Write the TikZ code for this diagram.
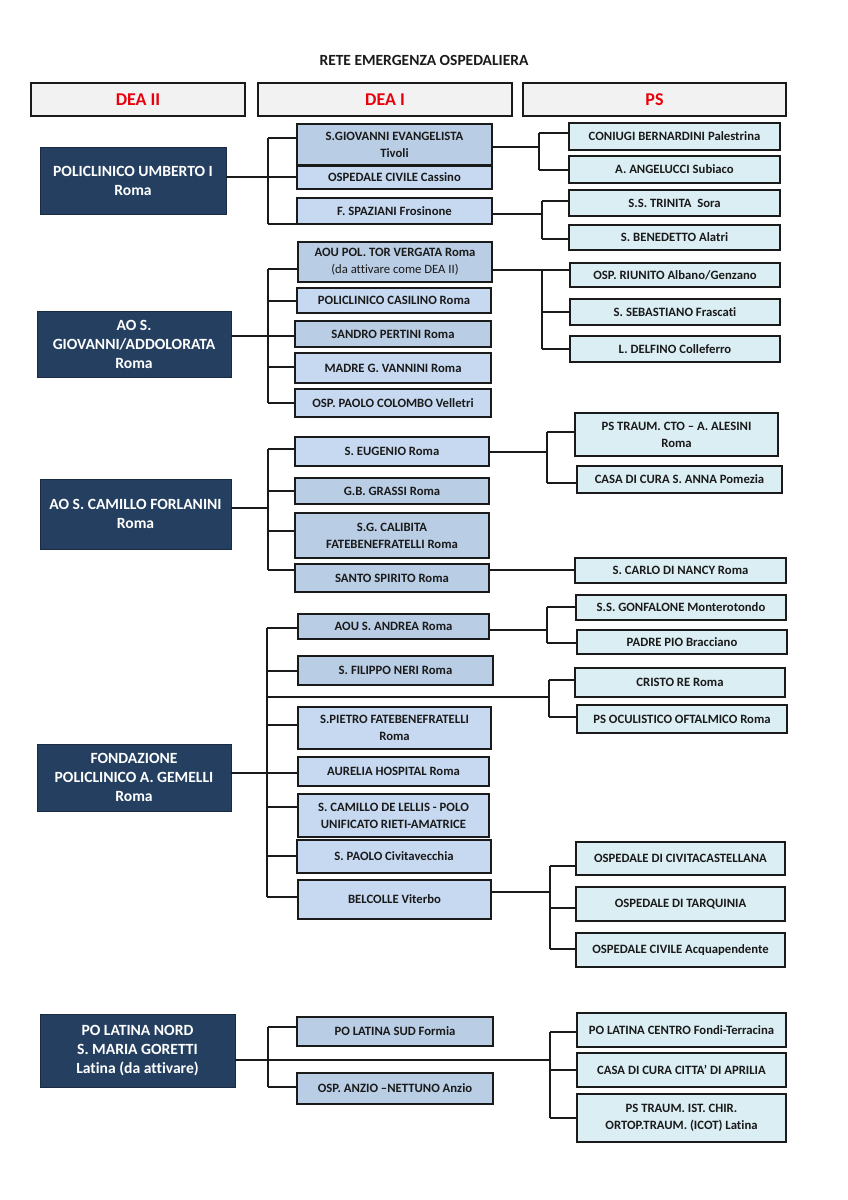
\documentclass[tikz,border=0pt]{standalone}
\usepackage{fontspec}
\setmainfont{Carlito}[Ligatures=NoCommon]
\definecolor{navy}{HTML}{243F60}
\definecolor{deaone}{HTML}{C6D9F1}
\definecolor{deaonedark}{HTML}{B9CDE5}
\definecolor{psblue}{HTML}{DBEEF4}
\definecolor{hdrred}{HTML}{E8000B}
\definecolor{hdrgray}{HTML}{F2F2F2}
\definecolor{edge}{HTML}{1A1A1A}
\newcommand\bx[7]{\node[#2, minimum width={(#5-#3)*1pt}, minimum height={(#6-#4)*1pt}] (#1) at ({(#3+#5)/2},{(#4+#6)/2}) {#7};}
\begin{document}
\begin{tikzpicture}[x=1pt,y=-1pt,
  every node/.style={font=\bfseries\fontsize{12.7}{17}\selectfont, inner sep=0pt, outer sep=0pt, align=center, text=edge},
  hdr/.style={draw=edge, line width=1.6pt, fill=hdrgray, text=hdrred, font=\bfseries\fontsize{18}{20}\selectfont},
  dk/.style={fill=navy, draw=navy!70!black, line width=0.8pt, text=white, font=\bfseries\fontsize{15.6}{19}\selectfont},
  deaA/.style={draw=edge, line width=1.6pt, fill=deaone},
  deaB/.style={deaA, fill=deaonedark},
  psbox/.style={draw=edge, line width=1.6pt, fill=psblue},
  ln/.style={line width=1.4pt, draw=edge}]
\fill[white] (0,0) rectangle (848,1200);
\useasboundingbox (0,0) rectangle (848,1200);

\node[font=\bfseries\fontsize{15.5}{17}\selectfont] (title) at (424,60) {RETE EMERGENZA OSPEDALIERA};

\bx{h1}{hdr}{31}{83}{245}{116}{DEA II}
\bx{h2}{hdr}{258}{83}{512}{116}{DEA I}
\bx{h3}{hdr}{523}{83}{786}{116}{PS}

% ---------- section 1
\bx{a}{dk}{40}{147}{226}{214}{POLICLINICO UMBERTO I\\Roma}
\bx{a1}{deaB}{297}{124}{492}{165}{S.GIOVANNI EVANGELISTA\\Tivoli}
\bx{a2}{deaA}{297}{166}{492}{189}{OSPEDALE CIVILE Cassino}
\bx{a3}{deaA}{297}{198}{492}{224}{F. SPAZIANI Frosinone}
\bx{p1}{psbox}{569}{123}{780}{150}{CONIUGI BERNARDINI Palestrina}
\bx{p2}{psbox}{569}{156}{780}{183}{A. ANGELUCCI Subiaco}
\bx{p3}{psbox}{569}{190}{780}{216}{S.S. TRINITA\ \ Sora}
\bx{p4}{psbox}{569}{225}{780}{250}{S. BENEDETTO Alatri}

\coordinate (ta1) at (268,138); \coordinate (ta2) at (268,224);
\draw[ln] (ta1) -- (ta2);
\draw[ln] (ta1) -- (a1.west |- ta1);
\draw[ln] (a.east |- 0,177) -- (a2.west |- 0,177);
\draw[ln] (ta2) -- (a3.west |- ta2);
\coordinate (sa1) at (539,133); \coordinate (sa2) at (539,170);
\draw[ln] (a1.east |- 0,147) -- (sa1 |- 0,147);
\draw[ln] (sa1) -- (sa2);
\draw[ln] (sa1) -- (p1.west |- sa1);
\draw[ln] (sa2) -- (p2.west |- sa2);
\coordinate (sb1) at (542,201); \coordinate (sb2) at (542,239);
\draw[ln] (a3.east |- 0,214) -- (sb1 |- 0,214);
\draw[ln] (sb1) -- (sb2);
\draw[ln] (sb1) -- (p3.west |- sb1);
\draw[ln] (sb2) -- (p4.west |- sb2);

% ---------- section 2
\bx{b}{dk}{37}{311}{231}{377}{AO S.\\GIOVANNI/ADDOLORATA\\Roma}
\bx{b1}{deaB}{298}{242}{492}{282}{AOU POL. TOR VERGATA Roma\\{\mdseries (da attivare come DEA II)}}
\bx{b2}{deaA}{297}{288}{491}{313}{POLICLINICO CASILINO Roma}
\bx{b3}{deaB}{295}{321}{491}{347}{SANDRO PERTINI Roma}
\bx{b4}{deaA}{295}{353}{491}{383}{MADRE G. VANNINI Roma}
\bx{b5}{deaA}{295}{389}{491}{417}{OSP. PAOLO COLOMBO Velletri}
\bx{q1}{psbox}{570}{263}{780}{287}{OSP. RIUNITO Albano/Genzano}
\bx{q2}{psbox}{570}{299}{780}{325}{S. SEBASTIANO Frascati}
\bx{q3}{psbox}{570}{336}{780}{362}{L. DELFINO Colleferro}

\coordinate (tb1) at (268,269); \coordinate (tb2) at (268,403);
\draw[ln] (tb1) -- (tb2);
\draw[ln] (tb1) -- (b1.west |- tb1);
\draw[ln] (tb1 |- 0,301) -- (b2.west |- 0,301);
\draw[ln] (b.east |- 0,336) -- (b3.west |- 0,336);
\draw[ln] (tb1 |- 0,367) -- (b4.west |- 0,367);
\draw[ln] (tb2) -- (b5.west |- tb2);
\coordinate (sc1) at (542,270); \coordinate (sc2) at (542,349);
\draw[ln] (b1.east |- sc1) -- (q1.west |- sc1);
\draw[ln] (sc1) -- (sc2);
\draw[ln] (sc1 |- 0,312) -- (q2.west |- 0,312);
\draw[ln] (sc2) -- (q3.west |- sc2);

% ---------- section 3
\bx{c}{dk}{40}{479}{231}{549}{AO S. CAMILLO FORLANINI\\Roma}
\bx{c1}{deaA}{295}{437}{489}{466}{S. EUGENIO Roma}
\bx{c2}{deaB}{295}{478}{489}{504}{G.B. GRASSI Roma}
\bx{c3}{deaB}{295}{513}{489}{558}{S.G. CALIBITA\\FATEBENEFRATELLI Roma}
\bx{c4}{deaB}{295}{564}{489}{592}{SANTO SPIRITO Roma}
\bx{r1}{psbox}{575}{413}{778}{456}{PS TRAUM. CTO – A. ALESINI\\Roma}
\bx{r2}{psbox}{577}{466}{782}{493}{CASA DI CURA S. ANNA Pomezia}
\bx{r3}{psbox}{575}{558}{786}{583}{S. CARLO DI NANCY Roma}

\coordinate (tc1) at (268,449); \coordinate (tc2) at (268,570);
\draw[ln] (tc1) -- (tc2);
\draw[ln] (tc1) -- (c1.west |- tc1);
\draw[ln] (tc1 |- 0,491) -- (c2.west |- 0,491);
\draw[ln] (c.east |- 0,508) -- (tc1 |- 0,508);
\draw[ln] (tc1 |- 0,531) -- (c3.west |- 0,531);
\draw[ln] (tc2) -- (c4.west |- tc2);
\coordinate (sd1) at (547,432); \coordinate (sd2) at (547,483);
\draw[ln] (c1.east |- 0,452) -- (sd1 |- 0,452);
\draw[ln] (sd1) -- (sd2);
\draw[ln] (sd1) -- (r1.west |- sd1);
\draw[ln] (sd2) -- (r2.west |- sd2);
\draw[ln] (c4.east |- 0,570) -- (r3.west |- 0,570);

% ---------- section 4
\bx{d}{dk}{37}{744}{231}{811}{FONDAZIONE\\POLICLINICO A. GEMELLI\\Roma}
\bx{d1}{deaB}{298}{614}{489}{639}{AOU S. ANDREA Roma}
\bx{d2}{deaB}{298}{656}{493}{685}{S. FILIPPO NERI Roma}
\bx{d3}{deaA}{298}{707}{491}{749}{S.PIETRO FATEBENEFRATELLI\\Roma}
\bx{d4}{deaA}{298}{757}{489}{786}{AURELIA HOSPITAL Roma}
\bx{d5}{deaA}{298}{794}{489}{837}{S. CAMILLO DE LELLIS - POLO\\UNIFICATO RIETI-AMATRICE}
\bx{d6}{deaA}{297}{840}{491}{873}{S. PAOLO Civitavecchia}
\bx{d7}{deaA}{298}{880}{491}{919}{BELCOLLE Viterbo}
\bx{s1}{psbox}{576}{595}{786}{620}{S.S. GONFALONE Monterotondo}
\bx{s2}{psbox}{577}{630}{787}{654}{PADRE PIO Bracciano}
\bx{s3}{psbox}{575}{668}{785}{697}{CRISTO RE Roma}
\bx{s4}{psbox}{577}{705}{787}{733}{PS OCULISTICO OFTALMICO Roma}
\bx{s5}{psbox}{576}{842}{785}{875}{OSPEDALE DI CIVITACASTELLANA}
\bx{s6}{psbox}{576}{887}{785}{921}{OSPEDALE DI TARQUINIA}
\bx{s7}{psbox}{576}{933}{785}{967}{OSPEDALE CIVILE Acquapendente}

\coordinate (td1) at (267,628); \coordinate (td2) at (267,897);
\draw[ln] (td1) -- (td2);
\draw[ln] (td1) -- (d1.west |- td1);
\draw[ln] (td1 |- 0,671) -- (d2.west |- 0,671);
\draw[ln] (td1 |- 0,725) -- (d3.west |- 0,725);
\draw[ln] (d.east |- 0,773) -- (d4.west |- 0,773);
\draw[ln] (td1 |- 0,807) -- (d5.west |- 0,807);
\draw[ln] (td1 |- 0,856) -- (d6.west |- 0,856);
\draw[ln] (td2) -- (d7.west |- td2);
\coordinate (se1) at (547,607); \coordinate (se2) at (547,643);
\draw[ln] (d1.east |- 0,630) -- (se1 |- 0,630);
\draw[ln] (se1) -- (se2);
\draw[ln] (se1) -- (s1.west |- se1);
\draw[ln] (se2) -- (s2.west |- se2);
\coordinate (sf1) at (549,680); \coordinate (sf2) at (549,717);
\draw[ln] (td1 |- 0,697) -- (sf1 |- 0,697);
\draw[ln] (sf1) -- (sf2);
\draw[ln] (sf1) -- (s3.west |- sf1);
\draw[ln] (sf2) -- (s4.west |- sf2);
\coordinate (sg1) at (550,866); \coordinate (sg2) at (550,949);
\draw[ln] (d7.east |- 0,892) -- (sg1 |- 0,892);
\draw[ln] (sg1) -- (sg2);
\draw[ln] (sg1) -- (s5.west |- sg1);
\draw[ln] (sg1 |- 0,908) -- (s6.west |- 0,908);
\draw[ln] (sg2) -- (s7.west |- sg2);

% ---------- section 5
\bx{e}{dk}{40}{1014}{235}{1087}{PO LATINA NORD\\S. MARIA GORETTI\\Latina (da attivare)}
\bx{e1}{deaB}{297}{1017}{493}{1046}{PO LATINA SUD Formia}
\bx{e2}{deaB}{297}{1073}{493}{1104}{OSP. ANZIO –NETTUNO Anzio}
\bx{f1}{psbox}{577}{1013}{786}{1047}{PO LATINA CENTRO Fondi-Terracina}
\bx{f2}{psbox}{577}{1053}{786}{1087}{CASA DI CURA CITTA’ DI APRILIA}
\bx{f3}{psbox}{577}{1094}{786}{1142}{PS TRAUM. IST. CHIR.\\ORTOP.TRAUM. (ICOT) Latina}

\coordinate (te1) at (268,1027); \coordinate (te2) at (268,1087);
\draw[ln] (te1) -- (te2);
\draw[ln] (te1) -- (e1.west |- te1);
\draw[ln] (te2) -- (e2.west |- te2);
\coordinate (sh1) at (550,1032); \coordinate (sh2) at (550,1118);
\draw[ln] (e.east |- 0,1060) -- (sh1 |- 0,1060);
\draw[ln] (sh1) -- (sh2);
\draw[ln] (sh1) -- (f1.west |- sh1);
\draw[ln] (sh1 |- 0,1070) -- (f2.west |- 0,1070);
\draw[ln] (sh2) -- (f3.west |- sh2);
\end{tikzpicture}
\end{document}
